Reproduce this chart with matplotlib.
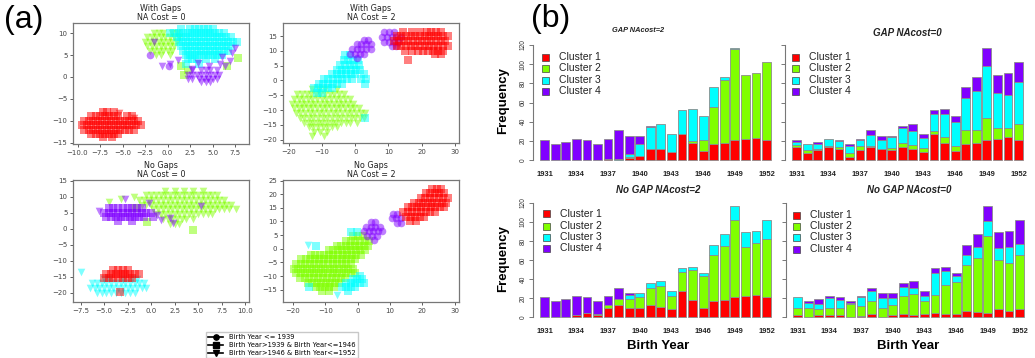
import numpy as np
import matplotlib
matplotlib.use("Agg")
import matplotlib.pyplot as plt
from matplotlib.lines import Line2D
from matplotlib.patches import Rectangle

W, H = 1035, 358

# ---------------- bar chart data (panel b) ----------------
years = [1931, 1932, 1933, 1934, 1935, 1936, 1937, 1938, 1939, 1940, 1941,
         1942, 1943, 1944, 1945, 1946, 1947, 1948, 1949, 1950, 1951, 1952]
year_labels = ["1931", "1934", "1937", "1940", "1943", "1946", "1949", "1952"]
cluster_names = ["Cluster 1", "Cluster 2", "Cluster 3", "Cluster 4"]

gap2_c1 = [0, 0, 0, 0, 0, 0, 1, 0, 2, 4, 11, 11, 8, 27, 18, 9, 17, 18, 21, 22, 23, 21]
gap2_c2 = [0, 0, 0, 0, 0, 0, 0, 0, 1, 0, 0, 0, 0, 0, 2, 12, 38, 65, 95, 67, 68, 81]
gap2_c3 = [0, 0, 0, 0, 0, 0, 0, 1, 3, 13, 23, 27, 19, 25, 33, 25, 21, 4, 1, 0, 0, 0]
gap2_c4 = [21, 17, 19, 22, 21, 17, 21, 30, 19, 8, 2, 0, 0, 0, 0, 0, 0, 0, 0, 0, 0, 0]

gap0_c1 = [14, 7, 10, 14, 12, 3, 10, 14, 11, 10, 14, 12, 8, 27, 18, 9, 17, 18, 21, 22, 24, 21]
gap0_c2 = [2, 3, 1, 1, 2, 4, 5, 1, 1, 3, 4, 4, 5, 3, 6, 6, 14, 13, 23, 11, 9, 17]
gap0_c3 = [3, 7, 6, 7, 6, 8, 6, 11, 9, 11, 15, 14, 10, 18, 24, 25, 34, 41, 54, 37, 35, 43]
gap0_c4 = [2, 0, 2, 0, 1, 2, 1, 5, 4, 1, 3, 8, 4, 4, 5, 6, 11, 15, 19, 19, 23, 21]

nogap2_c1 = [0, 0, 0, 2, 4, 2, 10, 13, 10, 10, 13, 11, 8, 27, 18, 9, 17, 18, 21, 22, 23, 21]
nogap2_c2 = [0, 0, 0, 0, 0, 1, 3, 6, 9, 11, 18, 22, 14, 20, 32, 34, 48, 57, 81, 52, 55, 61]
nogap2_c3 = [0, 0, 0, 0, 0, 0, 0, 0, 4, 4, 5, 5, 5, 5, 3, 3, 11, 12, 15, 15, 13, 20]
nogap2_c4 = [21, 17, 19, 20, 17, 14, 9, 12, 2, 0, 0, 0, 0, 0, 0, 0, 0, 0, 0, 0, 0, 0]

nogap0_c1 = [2, 0, 2, 2, 2, 0, 1, 3, 0, 2, 3, 2, 3, 4, 3, 3, 6, 5, 4, 8, 6, 8]
nogap0_c2 = [8, 9, 6, 8, 8, 14, 11, 14, 10, 11, 19, 22, 14, 19, 31, 34, 49, 57, 81, 52, 51, 57]
nogap0_c3 = [11, 6, 6, 10, 8, 1, 9, 10, 10, 7, 10, 7, 5, 23, 14, 6, 10, 12, 16, 13, 17, 12]
nogap0_c4 = [0, 2, 5, 2, 3, 2, 1, 4, 5, 5, 4, 7, 5, 6, 5, 3, 11, 13, 16, 16, 17, 25]

# ---------------- scatter data (panel a), rows of (y, [x ...]) ----------------
a1_red = [(-8.0, [-7.2, -6.7, -6.0]),
          (-9.0, [-8.5, -8.0, -7.5, -7.0, -6.5, -6.0, -5.5, -4.5, -4.0]),
          (-10.0, [-9.25, -8.75, -8.25, -7.75, -7.25, -6.75, -6.25, -5.75, -5.25, -4.75, -4.25, -3.75, -3.25]),
          (-11.0, [-9.5, -9.0, -8.5, -8.0, -7.5, -7.0, -6.5, -6.0, -5.5, -5.0, -4.5, -4.0, -3.5, -3.0]),
          (-12.0, [-9.25, -8.75, -8.25, -7.75, -7.25, -6.75, -6.25, -5.75, -5.25, -4.75, -4.25, -3.75]),
          (-13.0, [-8.5, -8.0, -7.5, -7.0, -6.5, -6.0, -5.5]),
          (-13.8, [-7.2, -6.2])]
a1_red_tri = [(-8.3, [-5.4]), (-9.3, [-3.7])]
a1_green = [(10.0, [-1.5, -1.0, -0.5, 0.5, 1.0]),
            (9.0, [-2.25, -1.75, -1.25, -0.75, -0.25, 0.25, 0.75, 1.25]),
            (8.0, [-2.5, -2.0, -1.5, -1.0, -0.5, 0.0, 0.5, 1.0]),
            (7.0, [-2.25, -1.75, -1.25, -0.75, -0.25, 0.25, 0.75]),
            (6.0, [-2.0, -1.5, -1.0, -0.5, 0.0, 0.5]),
            (5.0, [-1.25, -0.75, 0.25])]
a1_green_sq = [(2.5, [1.5, 6.6]), (1.5, [2.3]), (4.4, [7.8]), (0.5, [1.8])]
a1_cyan = [(11.0, [1.5, 2.5, 3.0, 3.5, 4.0, 4.5, 5.0]),
           (10.0, [0.25, 0.75, 1.25, 1.75, 2.25, 2.75, 3.25, 3.75, 4.25, 4.75, 5.25, 5.75, 6.25]),
           (9.0, [1.0, 1.5, 2.0, 2.5, 3.0, 3.5, 4.0, 4.5, 5.0, 5.5, 6.0, 6.5, 7.0]),
           (8.0, [1.25, 1.75, 2.25, 2.75, 3.25, 3.75, 4.25, 4.75, 5.25, 5.75, 6.25, 6.75, 7.25, 7.75]),
           (7.0, [1.5, 2.0, 2.5, 3.0, 3.5, 4.0, 4.5, 5.0, 5.5, 6.0, 6.5, 7.0]),
           (6.0, [1.75, 2.25, 2.75, 3.25, 3.75, 4.25, 4.75, 5.25, 5.75, 6.25, 6.75]),
           (5.0, [2.0, 2.5, 3.0, 3.5, 4.0, 4.5, 5.0, 5.5, 6.0]),
           (4.0, [2.25, 2.75, 3.25, 4.25, 5.25]),
           (3.0, [2.0, 3.5])]
a1_purple = [(1.5, [2.75, 3.75, 4.25, 4.75, 5.5]),
             (0.5, [2.25, 2.75, 3.25, 3.75, 4.25, 4.75, 5.25, 5.75]),
             (-0.5, [2.25, 2.75, 3.5, 4.0, 4.5, 5.0, 5.5]),
             (-1.2, [3.75, 4.25, 4.75])]
a1_purple_tri = [(3.0, [5.8, 0.3]), (2.6, [6.4, 4.6, -0.6]), (3.6, [6.9]), (6.6, [7.5]),
                 (5.5, [7.2]), (3.2, [3.4]), (1.8, [2.7]), (8.0, [-1.5]), (3.8, [1.2]), (4.5, [6.1])]
a1_purple_circ = [(5.0, [-2.0]), (2.5, [0.2])]

a2_red = [(16.5, [14.5, 17.0, 19.5, 21.5, 23.0, 24.5, 26.0]),
          (14.9, [12.5, 13.9, 15.3, 16.7, 18.1, 19.5, 20.9, 22.3, 23.7, 25.1, 26.5, 27.9]),
          (13.3, [11.8, 13.2, 14.6, 16.0, 17.4, 18.8, 20.2, 21.6, 23.0, 24.4, 25.8, 27.2]),
          (11.7, [12.5, 13.9, 15.3, 16.7, 18.1, 19.5, 20.9, 22.3, 23.7, 25.1, 26.5, 27.9]),
          (10.1, [15.0, 17.0, 19.0, 20.5, 22.0, 23.5, 25.0, 26.5]),
          (8.9, [24.0, 26.0]),
          (6.8, [15.8])]
a2_purple = [(16.3, [8.8, 10.2, 11.6]),
             (14.7, [8.2, 9.6, 11.0, 12.4, 13.8]),
             (13.1, [8.8, 10.2, 11.6, 13.0]),
             (11.6, [11.0, 12.4]),
             (13.8, [2.5, 3.9]),
             (12.2, [0.4, 1.8, 3.2, 4.6]),
             (10.6, [-1.0, 0.4, 1.8, 3.2, 4.6]),
             (9.0, [-1.5, -0.1, 1.3, 2.7]),
             (7.6, [0.5])]
a2_cyan = [(8.5, [-3.0, -1.6]),
           (6.9, [-3.5, -2.1, -0.7, 0.7]),
           (5.3, [-4.5, -3.1, -1.7, -0.3, 1.1]),
           (3.7, [-5.5, -4.1, -2.7, -1.3, 0.1, 1.5]),
           (2.1, [-7.0, -5.6, -4.2, -2.8, -1.4, 0.0, 2.5]),
           (0.5, [-9.5, -8.1, -6.7, -5.3, -3.9, -2.5, -1.1, 1.8, 3.2]),
           (-1.1, [-11.0, -9.6, -8.2, -6.8, -5.4, -4.0, 2.8]),
           (-2.7, [-12.5, -11.1, -9.7, -8.3, -6.9]),
           (-4.3, [-11.5, -10.1]),
           (-12.5, [3.0])]
a2_green = [(-3.0, [-13.0, -11.0, -9.0, -5.5]),
            (-4.6, [-17.5, -16.1, -14.7, -13.3, -11.9, -10.5, -9.1, -7.7, -6.3, -4.9, -3.5]),
            (-6.2, [-18.5, -17.1, -15.7, -14.3, -12.9, -11.5, -10.1, -8.7, -7.3, -5.9, -4.5, -3.1, -1.7]),
            (-7.8, [-19.0, -17.6, -16.2, -14.8, -13.4, -12.0, -10.6, -9.2, -7.8, -6.4, -5.0, -3.6, -2.2, -0.8]),
            (-9.4, [-18.5, -17.1, -15.7, -14.3, -12.9, -11.5, -10.1, -8.7, -7.3, -5.9, -4.5, -3.1, -1.7, -0.3, 1.1]),
            (-11.0, [-18.0, -16.6, -15.2, -13.8, -12.4, -11.0, -9.6, -8.2, -6.8, -5.4, -4.0, -2.6, -1.2, 0.2, 1.6, 3.0]),
            (-12.6, [-16.8, -15.4, -14.0, -12.6, -11.2, -9.8, -8.4, -7.0, -5.6, -4.2, -2.8, -1.4, 0.0, 1.4, 2.6]),
            (-14.2, [-15.5, -14.1, -12.7, -11.3, -9.9, -8.5, -7.1, -5.7, -4.3, -2.9, -1.5, 0.5]),
            (-15.8, [-14.0, -12.6, -11.2, -9.8, -8.4, -7.0, -5.6]),
            (-17.4, [-12.5, -10.5, -8.5]),
            (-18.6, [-13.0, -9.5])]

a3_green = [(11.8, [1.5, 2.5, 3.5, 4.5, 5.5]),
            (10.5, [-0.5, 0.0, 0.5, 1.0, 1.5, 2.0, 2.5, 3.0, 3.5, 4.0, 4.5, 5.0, 5.5, 6.0, 6.5, 7.0]),
            (9.0, [-1.25, -0.75, -0.25, 0.25, 0.75, 1.25, 1.75, 2.25, 2.75, 3.25, 3.75, 4.25, 4.75, 5.25, 5.75, 6.25, 6.75, 7.25, 7.75]),
            (7.5, [-1.0, -0.5, 0.0, 0.5, 1.0, 1.5, 2.0, 2.5, 3.0, 3.5, 4.0, 4.5, 5.0, 5.5, 6.0, 6.5, 7.0, 7.5, 8.0, 8.5]),
            (6.0, [0.25, 0.75, 1.25, 1.75, 2.25, 2.75, 3.25, 3.75, 4.25, 4.75, 5.25, 5.75, 6.25, 6.75, 7.25, 7.75, 8.25, 9.0]),
            (4.5, [0.5, 1.0, 1.5, 2.0, 2.5, 3.0, 3.5, 4.0, 4.5, 5.0, 5.5, 6.0, 6.5]),
            (3.0, [1.25, 1.75, 2.25, 2.75, 3.25, 3.75, 4.5]),
            (1.5, [2.0, 2.5, 3.0]),
            (8.2, [-4.5]), (9.2, [-3.2]), (10.0, [-1.8])]
a3_green_sq = [(-0.5, [4.5]), (6.5, [-1.6]), (2.2, [-0.4])]
a3_purple = [(6.5, [-4.5, -4.0, -3.5, -3.0, -2.5, -2.0, -1.5, -1.0]),
             (5.0, [-5.0, -4.5, -4.0, -3.5, -3.0, -2.5, -2.0, -1.5, -1.0, -0.5, 0.0]),
             (3.5, [-4.75, -4.25, -3.75, -3.25, -2.75, -2.25, -1.75, -1.25, -0.75, 0.25]),
             (2.5, [-3.5, -2.0])]
a3_purple_tri = [(9.2, [-2.8]), (8.0, [-0.2]), (2.6, [1.0]), (3.3, [2.0]), (1.8, [2.3]),
                 (5.5, [-5.5]), (4.3, [0.6]), (7.2, [5.3])]
a3_red = [(-12.8, [-4.0, -3.5, -3.0, -2.5]),
          (-14.0, [-4.75, -4.25, -3.75, -3.25, -2.75, -2.25, -1.75, -1.25]),
          (-15.3, [-5.0, -4.5, -4.0, -3.5, -3.0, -2.5, -2.0]),
          (-19.8, [-3.3])]
a3_cyan = [(-15.8, [-5.0, -4.5, -3.0, -2.0, -1.5]),
           (-17.0, [-6.25, -5.75, -5.25, -4.75, -4.25, -3.75, -3.25, -2.75, -2.25, -1.75, -1.25, -0.75]),
           (-18.5, [-6.5, -6.0, -5.5, -5.0, -4.5, -4.0, -3.5, -3.0, -2.5, -2.0, -1.5, -1.0, -0.5]),
           (-20.0, [-5.75, -5.25, -4.75, -4.25, -3.75, -3.25, -2.75, -2.25, -1.75]),
           (-13.5, [-7.5])]

a4_red = [(22.0, [23.0, 24.4, 25.8]),
          (20.3, [21.0, 22.4, 23.8, 25.2, 26.6]),
          (18.6, [19.5, 20.9, 22.3, 23.7, 25.1, 26.5, 27.9]),
          (16.9, [17.5, 18.9, 20.3, 21.7, 23.1, 24.5, 25.9, 27.3]),
          (15.2, [15.5, 16.9, 18.3, 19.7, 21.1, 22.5, 23.9, 25.3, 26.7]),
          (13.5, [14.0, 15.4, 16.8, 18.2, 19.6, 21.0, 22.4, 23.8]),
          (11.8, [15.0, 16.4, 17.8, 19.2, 20.6]),
          (10.3, [16.0, 18.0])]
a4_purple = [(9.8, [4.0, 5.4]),
             (8.1, [2.6, 4.0, 5.4, 6.8]),
             (6.4, [2.0, 3.4, 4.8, 6.2, 7.6]),
             (4.7, [3.0, 4.4, 5.8]),
             (3.2, [5.0]),
             (12.8, [10.8, 12.2]),
             (11.1, [10.5, 11.9, 13.3]),
             (9.6, [12.0, 13.4])]
a4_green = [(4.6, [-1.5, 0.0, 1.5]),
            (2.9, [-3.5, -2.1, -0.7, 0.7, 2.1, 3.5]),
            (1.2, [-6.5, -5.1, -3.7, -2.3, -0.9, 0.5, 1.9, 3.3]),
            (-0.5, [-9.0, -7.6, -6.2, -4.8, -3.4, -2.0, -0.6, 0.8, 2.2]),
            (-2.2, [-14.5, -13.1, -11.7, -10.3, -8.9, -7.5, -6.1, -4.7, -3.3, -1.9, -0.5, 0.9]),
            (-3.9, [-17.5, -16.1, -14.7, -13.3, -11.9, -10.5, -9.1, -7.7, -6.3, -4.9, -3.5, -2.1, -0.7]),
            (-5.6, [-19.0, -17.6, -16.2, -14.8, -13.4, -12.0, -10.6, -9.2, -7.8, -6.4, -5.0, -3.6, -2.2]),
            (-7.3, [-19.8, -18.4, -17.0, -15.6, -14.2, -12.8, -11.4, -10.0, -8.6, -7.2, -5.8, -4.4, -3.0, -1.6]),
            (-9.0, [-19.0, -17.6, -16.2, -14.8, -13.4, -12.0, -10.6, -9.2, -7.8, -6.4, -5.0, -3.6, -2.2, -0.8]),
            (-10.7, [-17.8, -16.4, -15.0, -13.6, -12.2, -10.8, -9.4, -8.0, -6.6, -5.2, -3.8]),
            (-12.4, [-15.5, -14.1, -12.7, -11.3, -9.9, -8.5, -7.1, -5.7]),
            (-14.1, [-13.0, -11.6, -10.2, -8.8, -7.4]),
            (-15.6, [-11.0, -9.0])]
a4_cyan = [(-9.8, [0.8]),
           (-11.2, [-1.5, -0.1, 1.3]),
           (-12.6, [-3.5, -2.1, -0.7, 0.7, 2.0]),
           (-14.0, [-5.0, -3.6, -2.2, -0.8]),
           (-15.3, [-3.0]),
           (6.0, [-2.0]), (6.3, [-0.3]), (1.0, [-13.0]), (-14.0, [-15.0])]
a4_cyan_tri = [(-17.0, [-6.5]), (1.5, [-15.5])]

legend_labels = ["Birth Year <= 1939",
                 "Birth Year>1939 & Birth Year<=1946",
                 "Birth Year>1946 & Birth Year<=1952"]

# ---------------- styling ----------------
RED, GREEN, CYAN, PURPLE = "#ff0000", "#80ff00", "#00ffff", "#8000ff"
bar_colors = [RED, GREEN, CYAN, PURPLE]


def rows_xy(rows):
    xs, ys = [], []
    for y, xlist in rows:
        for x in xlist:
            xs.append(x)
            ys.append(y)
    return xs, ys


fig = plt.figure(figsize=(W / 100, H / 100), dpi=100)


def px_axes(l, t, r, b):
    return fig.add_axes([l / W, 1 - b / H, (r - l) / W, (b - t) / H])


scatter_panels = [
    ((73, 23, 249, 144), "With Gaps\nNA Cost = 0", (-10.5, 9.05), (-15.3, 12.3),
     [-10.0, -7.5, -5.0, -2.5, 0.0, 2.5, 5.0, 7.5], [-15, -10, -5, 0, 5, 10],
     [(a1_red, RED, "s"), (a1_red_tri, RED, "v"), (a1_green, GREEN, "v"),
      (a1_green_sq, GREEN, "s"), (a1_cyan, CYAN, "s"), (a1_purple, PURPLE, "v"),
      (a1_purple_tri, PURPLE, "v"), (a1_purple_circ, PURPLE, "o")]),
    ((283, 23, 459, 143), "With Gaps\nNA Cost = 2", (-21.8, 31.3), (-21.1, 19.4),
     [-20, -10, 0, 10, 20, 30], [-20, -15, -10, -5, 0, 5, 10, 15],
     [(a2_green, GREEN, "v"), (a2_cyan, CYAN, "s"), (a2_purple, PURPLE, "o"),
      (a2_red, RED, "s")]),
    ((73, 180, 249, 302), "No Gaps\nNA Cost = 0", (-8.3, 10.4), (-22.9, 15.2),
     [-7.5, -5.0, -2.5, 0.0, 2.5, 5.0, 7.5, 10.0], [-20, -15, -10, -5, 0, 5, 10, 15],
     [(a3_green, GREEN, "v"), (a3_green_sq, GREEN, "s"), (a3_purple, PURPLE, "s"),
      (a3_purple_tri, PURPLE, "v"), (a3_cyan, CYAN, "v"), (a3_red, RED, "s")]),
    ((283, 180, 459, 302), "No Gaps\nNA Cost = 2", (-23.1, 31.3), (-19.5, 25.2),
     [-20, -10, 0, 10, 20, 30], [-15, -10, -5, 0, 5, 10, 15, 20, 25],
     [(a4_green, GREEN, "s"), (a4_cyan, CYAN, "s"), (a4_cyan_tri, CYAN, "v"),
      (a4_purple, PURPLE, "o"), (a4_red, RED, "s")]),
]

for rect, title, xl, yl, xt, yt, groups in scatter_panels:
    ax = px_axes(*rect)
    for rows, col, mk in groups:
        xs, ys = rows_xy(rows)
        ax.scatter(xs, ys, s=30, c=col, marker=mk, alpha=0.5, linewidths=0)
    ax.set_xlim(*xl)
    ax.set_ylim(*yl)
    ax.set_xticks(xt)
    ax.set_yticks(yt)
    ax.set_title(title, fontsize=5.8, pad=2, linespacing=1.05, color="#222")
    ax.tick_params(labelsize=5, length=2.5, width=0.6, pad=1.5, colors="#444")
    for sp in ax.spines.values():
        sp.set_color("#777")
        sp.set_linewidth(0.9)

handles = [Line2D([0], [0], color="k", marker=m, markersize=3.8, lw=1.2)
           for m in ["o", "s", "v"]]
fig.legend(handles, legend_labels, loc="upper left", bbox_to_anchor=(206 / W, 1 - 332 / H),
           fontsize=4.9, frameon=True, edgecolor="#bbb", fancybox=False,
           handlelength=2.2, labelspacing=0.32, borderpad=0.3, handletextpad=0.9,
           borderaxespad=0)

fig.text(4 / W, 1 - 20 / H, "(a)", fontsize=23, family="Liberation Sans", va="center", ha="left")
fig.text(531 / W, 1 - 19 / H, "(b)", fontsize=23, family="Liberation Sans", va="center", ha="left")

# ---------------- bar charts ----------------
bar_panels = [
    ((533, 43.1, 775, 162.9), "GAP NAcost=2", (638, 30), 5.3,
     [gap2_c1, gap2_c2, gap2_c3, gap2_c4], True, False, (542, 559, [57, 68, 80, 91])),
    ((785, 43.1, 1027, 162.9), "GAP NAcost=0", (907, 33), 7.0,
     [gap0_c1, gap0_c2, gap0_c3, gap0_c4], False, False, (792, 809, [57, 68, 80, 91])),
    ((533, 201.1, 775, 319.9), "No GAP NAcost=2", (658, 190), 7.0,
     [nogap2_c1, nogap2_c2, nogap2_c3, nogap2_c4], True, True, (543, 560, [214, 226, 237, 248])),
    ((786, 201.1, 1028, 319.9), "No GAP NAcost=0", (909, 190), 7.0,
     [nogap0_c1, nogap0_c2, nogap0_c3, nogap0_c4], False, True, (793, 810, [215, 226, 237, 249])),
]

for rect, title, tpos, tsize, series, left, bottom_row, leg in bar_panels:
    ax = px_axes(*rect)
    x = np.arange(len(years))
    base = np.zeros(len(years))
    for vals, col in zip(series, bar_colors):
        v = np.array(vals, dtype=float)
        m = v > 0
        ax.bar(x[m], v[m], 0.83, bottom=base[m], color=col, edgecolor="#8c8c8c", linewidth=0.6)
        base += v
    ax.set_xlim(-1.1, 21.8)
    ax.set_ylim(-3, 122)
    for s in ["top", "right", "bottom"]:
        ax.spines[s].set_visible(False)
    ax.spines["left"].set_bounds(0, 120)
    ax.spines["left"].set_color("#777")
    ax.spines["left"].set_linewidth(0.8)
    ax.set_yticks([0, 20, 40, 60, 80, 100, 120])
    ax.tick_params(axis="y", length=3, width=0.7, colors="#777", labelsize=4.8, pad=1.5)
    if left:
        ax.set_yticklabels(["0", "20", "40", "60", "80", "100", "120"], rotation=90,
                           va="center", color="#333", family="Liberation Sans")
    else:
        ax.set_yticklabels([])
    ax.set_xticks([years.index(int(t)) for t in year_labels])
    ax.set_xticklabels(year_labels, fontsize=5.4, fontweight="bold", family="Liberation Sans",
                       color="#222")
    ax.tick_params(axis="x", length=0, pad=5.5)
    fig.text(tpos[0] / W, 1 - tpos[1] / H, title, fontsize=tsize, fontweight="bold",
             fontstyle="italic", family="Liberation Sans", ha="center", va="center", color="#222")
    sq_x, tx_x, rows = leg
    for name, col, ry in zip(cluster_names, bar_colors, rows):
        fig.add_artist(Rectangle((sq_x / W, 1 - (ry + 3.5) / H), 7 / W, 7 / H,
                                 transform=fig.transFigure, facecolor=col,
                                 edgecolor="#444", linewidth=0.5))
        fig.text(tx_x / W, 1 - ry / H, name, fontsize=7.5, family="Liberation Sans",
                 ha="left", va="center", color="#222")
    if left:
        cy = (rect[1] + rect[3]) / 2
        fig.text(503 / W, 1 - (cy - 2) / H, "Frequency", rotation=90, fontsize=9.5,
                 fontweight="bold", family="Liberation Sans", ha="center", va="center")
    if bottom_row:
        cx = 658 if left else 908
        fig.text(cx / W, 1 - 346 / H, "Birth Year", fontsize=9.5, fontweight="bold",
                 family="Liberation Sans", ha="center", va="center")

fig.savefig("out.png", dpi=100)
